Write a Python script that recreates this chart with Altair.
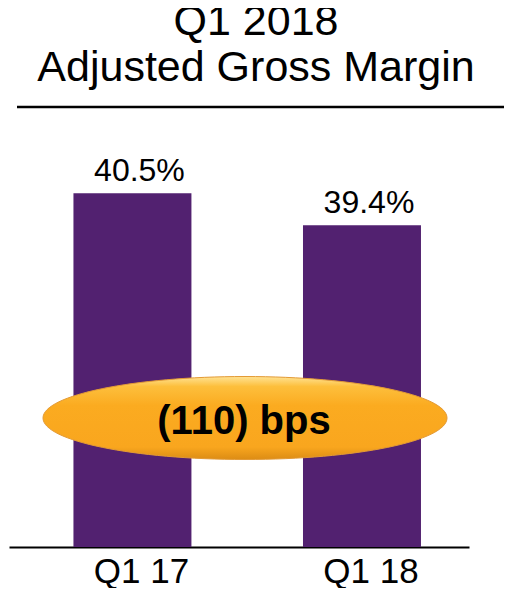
import altair as alt
import pandas as pd

# ---- data ----
periods = ["Q1 17", "Q1 18"]
margins = [40.5, 39.4]
value_labels = ["40.5%", "39.4%"]
change_label = ["(110) bps"]
title_lines = ["Q1 2018", "Adjusted Gross Margin"]

FONT = "Liberation Sans"
BAR = "#522170"

df = pd.DataFrame({"period": periods, "margin": margins, "label": value_labels})
note = pd.DataFrame({"text": change_label})

x = alt.X(
    "period:N",
    sort=periods,
    title=None,
    scale=alt.Scale(paddingInner=0.486, paddingOuter=0.245, align=0.573),
    axis=alt.Axis(
        labelAngle=0,
        labelFontSize=35,
        labelFont=FONT,
        labelColor="#000000",
        labelBaseline="alphabetic",
        labelPadding=35,
        labelOffset=9,
        ticks=False,
        tickSize=0,
        domain=True,
        domainColor="#000000",
        domainWidth=2,
        grid=False,
    ),
)
y = alt.Y(
    "margin:Q",
    scale=alt.Scale(domain=[28.3, 43.1], zero=False, nice=False),
    axis=None,
)

bars = alt.Chart(df).mark_bar(color=BAR, clip=True).encode(x=x, y=y)

vals = alt.Chart(df).mark_text(
    font=FONT, fontSize=32, color="#000000", baseline="alphabetic", dx=7, dy=-12
).encode(x=x, y=y, text="label:N")

title_rule = alt.Chart(note).mark_rule(color="#000000", strokeWidth=2.5, clip=False).encode(
    x=alt.value(8), x2=alt.value(495), y=alt.value(-11)
)

ellipse_path = "M -1 0 A 1 0.2054 0 1 1 1 0 A 1 0.2054 0 1 1 -1 0 Z"
gradient = alt.Gradient(
    gradient="linear",
    x1=0, y1=0, x2=0, y2=1,
    stops=[
        alt.GradientStop(color="#FFE394", offset=0.0),
        alt.GradientStop(color="#FDBF3C", offset=0.12),
        alt.GradientStop(color="#FBAB20", offset=0.35),
        alt.GradientStop(color="#F9A61E", offset=0.85),
        alt.GradientStop(color="#DC8C14", offset=1.0),
    ],
)
oval = alt.Chart(note).mark_point(
    shape=ellipse_path, filled=True, fill=gradient, fillOpacity=1,
    stroke="#E39A35", strokeWidth=1, opacity=1, clip=False,
).encode(x=alt.value(236), y=alt.value(300), size=alt.value(163216))

oval_text = alt.Chart(note).mark_text(
    font=FONT, fontSize=40, fontWeight="bold", color="#000000", baseline="alphabetic"
).encode(x=alt.value(235), y=alt.value(316), text="text:N")

chart = (
    alt.layer(title_rule, bars, vals, oval, oval_text)
    .properties(
        width=460,
        height=429,
        background="#ffffff",
        title=alt.Title(
            title_lines,
            font=FONT,
            fontSize=43,
            fontWeight="normal",
            color="#000000",
            anchor="middle",
            baseline="bottom",
            lineHeight=46,
            offset=24,
            dx=17,
            dy=51,
        ),
        autosize=alt.AutoSizeParams(type="none"),
        padding={"left": 1, "top": 110, "right": 35, "bottom": 41},
    )
    .configure_view(stroke="transparent", strokeWidth=0)
)

chart.save("out.html", embed_options={"renderer": "svg", "actions": False})
